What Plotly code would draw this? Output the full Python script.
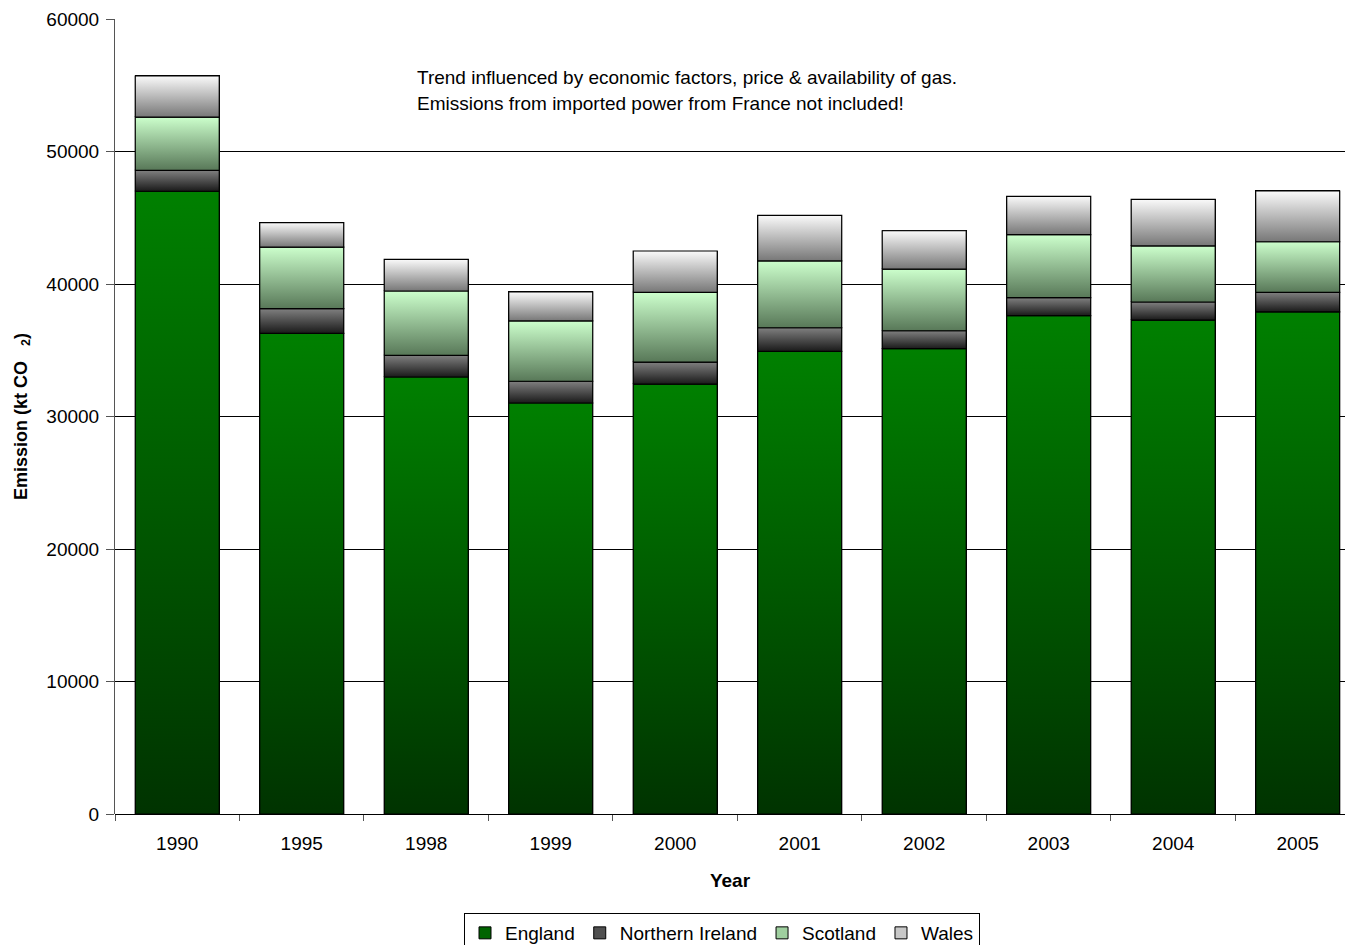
import plotly.graph_objects as go

# Power-sector CO2 emissions by UK country (kt CO2)
years = ["1990", "1995", "1998", "1999", "2000", "2001", "2002", "2003", "2004", "2005"]
england = [47000, 36280, 32980, 31020, 32450, 34920, 35120, 37610, 37280, 37900]
northern_ireland = [1580, 1860, 1640, 1640, 1660, 1780, 1350, 1360, 1360, 1470]
scotland = [4020, 4650, 4850, 4550, 5260, 5040, 4660, 4750, 4230, 3820]
wales = [3100, 1840, 2390, 2190, 3120, 3440, 2890, 2900, 3520, 3830]

series = [
    ("England", england, "#003300", "#008000", "#006400"),
    ("Northern Ireland", northern_ireland, "#1a1a1a", "#808080", "#505050"),
    ("Scotland", scotland, "#587858", "#ccffcc", "#9fcf9f"),
    ("Wales", wales, "#777777", "#fafafa", "#c8c8c8"),
]

note_lines = [
    "Trend influenced by economic factors, price & availability of gas.",
    "Emissions from imported power from France not included!",
]

FONT = "Liberation Sans, Arial, sans-serif"
BAR_W = 0.675
xs = list(range(len(years)))

fig = go.Figure()

# Plain stacked bars (they also carry the legend entries)
for name, vals, c0, c1, cmid in series:
    fig.add_trace(go.Bar(
        x=xs, y=vals, name=name, width=BAR_W,
        marker=dict(color=cmid, line=dict(color="black", width=1)),
    ))

# Vertical gradient overlay for each stacked segment
base = [0] * len(years)
for name, vals, c0, c1, cmid in series:
    for i, v in enumerate(vals):
        b, t = base[i], base[i] + v
        fig.add_trace(go.Scatter(
            x=[i - BAR_W / 2, i + BAR_W / 2, i + BAR_W / 2, i - BAR_W / 2, i - BAR_W / 2],
            y=[b, b, t, t, b],
            mode="lines", fill="toself",
            fillgradient=dict(type="vertical", colorscale=[[0, c0], [1, c1]]),
            line=dict(color="black", width=1.2),
            showlegend=False, hoverinfo="skip",
        ))
        base[i] = t

for k, txt in enumerate(note_lines):
    fig.add_annotation(
        text=txt, xref="paper", x=(415 - 115) / 1230, xanchor="left",
        yref="y", y=55550 - k * 1960, yanchor="middle",
        showarrow=False, font=dict(family=FONT, size=19, color="black"),
    )

fig.update_layout(
    width=1345, height=945,
    margin=dict(l=115, r=0, t=19, b=131),
    barmode="stack",
    plot_bgcolor="white", paper_bgcolor="white",
    font=dict(family=FONT, size=19, color="black"),
    showlegend=True,
    legend=dict(
        orientation="h", xref="container", yref="container",
        x=722 / 1345, xanchor="center", y=1 - 913 / 945, yanchor="top",
        bordercolor="black", borderwidth=1, font=dict(size=19),
        itemwidth=30, tracegroupgap=0, traceorder="normal",
    ),
    xaxis=dict(
        range=[-0.5, 9.38], tickvals=xs, ticktext=years, ticks="",
        showgrid=False, zeroline=False, showline=False,
        minor=dict(tickvals=[i - 0.5 for i in range(len(years) + 1)],
                   ticks="outside", ticklen=6, tickcolor="#555555", showgrid=False),
        tickfont=dict(size=19), ticklabelstandoff=16,
        title=dict(text="<b>Year</b>", font=dict(size=19), standoff=20),
    ),
    yaxis=dict(
        range=[0, 60000], dtick=10000, tickformat="d",
        showgrid=True, gridcolor="black", gridwidth=1,
        zeroline=True, zerolinecolor="black", zerolinewidth=1,
        showline=True, linecolor="#555555", linewidth=1,
        ticks="outside", ticklen=8, tickcolor="#555555",
        tickfont=dict(size=19), ticklabelstandoff=3,
        title=dict(text="<b>Emission (kt CO&nbsp;&nbsp; <sub>2</sub>)</b>",
                   font=dict(size=18), standoff=14),
    ),
)

fig.write_html("out.html")
